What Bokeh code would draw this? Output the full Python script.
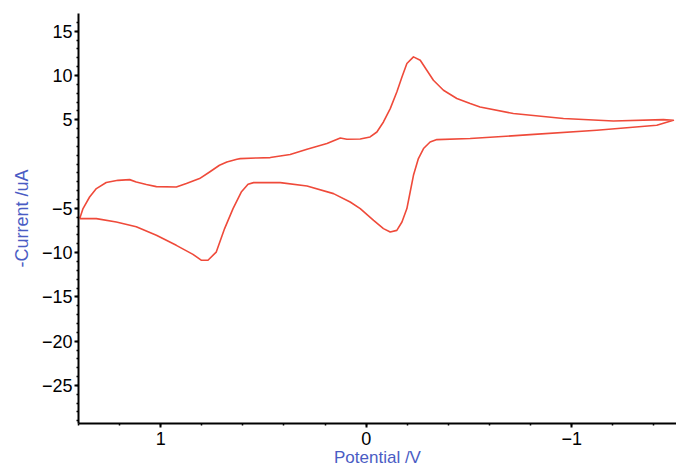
from bokeh.plotting import figure
from bokeh.models import Range1d, FixedTicker, CustomJSTickFormatter
from bokeh.embed import file_html
from bokeh.resources import INLINE

# Forward scan (potential in V, -current in uA)
potential_fwd = [1.394, 1.378, 1.346, 1.313, 1.265, 1.208, 1.151, 1.119, 1.070, 1.021,
                 0.924, 0.875, 0.811, 0.762, 0.714, 0.678, 0.629, 0.613, 0.532, 0.467,
                 0.370, 0.288, 0.191, 0.126, 0.094, 0.029, -0.019, -0.052, -0.084,
                 -0.117, -0.149, -0.174, -0.198, -0.230, -0.263, -0.295, -0.327, -0.376,
                 -0.441, -0.506, -0.554, -0.716, -0.960, -1.203, -1.446, -1.495]
current_fwd = [-6.16, -5.03, -3.72, -2.77, -2.09, -1.84, -1.76, -2.03, -2.32, -2.55,
               -2.59, -2.20, -1.64, -0.90, -0.14, 0.23, 0.54, 0.61, 0.69, 0.73,
               1.07, 1.67, 2.31, 2.94, 2.80, 2.82, 3.06, 3.62, 4.75,
               6.26, 8.14, 9.84, 11.35, 12.10, 11.72, 10.59, 9.46, 8.33,
               7.40, 6.83, 6.45, 5.70, 5.14, 4.86, 5.02, 4.94]

# Reverse scan
potential_rev = [-1.495, -1.414, -1.122, -0.798, -0.506, -0.344, -0.311, -0.279, -0.254,
                 -0.230, -0.214, -0.198, -0.174, -0.149, -0.117, -0.084, -0.036, 0.029,
                 0.078, 0.159, 0.288, 0.418, 0.548, 0.575, 0.608, 0.648, 0.689, 0.730,
                 0.770, 0.803, 0.843, 0.924, 1.021, 1.119, 1.216, 1.313, 1.394]
current_rev = [4.94, 4.38, 3.81, 3.32, 2.88, 2.76, 2.49, 1.75, 0.62,
               -1.27, -3.16, -5.03, -6.55, -7.49, -7.68, -7.29, -6.36, -5.03,
               -4.29, -3.34, -2.48, -2.10, -2.10, -2.29, -3.16, -5.03, -7.29, -9.95,
               -10.86, -10.86, -10.20, -9.18, -8.05, -7.09, -6.55, -6.16, -6.16]

x_major = [1, 0, -1]
x_minor = [1.4, 1.2, 1.0, 0.8, 0.6, 0.4, 0.2, 0.0, -0.2, -0.4, -0.6, -0.8, -1.0, -1.2, -1.4]
y_major = [-25, -20, -15, -10, -5, 5, 10, 15]
y_minor = list(range(-29, 17))

p = figure(width=676, height=472, output_backend="svg", toolbar_location=None,
           x_range=Range1d(1.4, -1.51), y_range=Range1d(-29.3, 17.0),
           min_border_left=78, min_border_right=0, min_border_top=13, min_border_bottom=49)
p.outline_line_color = None
p.xgrid.visible = False
p.ygrid.visible = False
p.background_fill_color = "white"
p.border_fill_color = "white"

p.line(potential_fwd + potential_rev, current_fwd + current_rev,
       line_color="#ef4a3a", line_width=1.6, line_join="round")

fmt = CustomJSTickFormatter(code="return tick < 0 ? '\u2212' + Math.abs(tick) : tick.toString();")

for ax, maj, mino in ((p.xaxis[0], x_major, x_minor), (p.yaxis[0], y_major, y_minor)):
    ax.ticker = FixedTicker(ticks=maj, minor_ticks=mino)
    ax.formatter = fmt
    ax.axis_line_width = 2
    ax.axis_line_color = "black"
    ax.major_tick_out = 4
    ax.major_tick_in = 0
    ax.major_tick_line_width = 2
    ax.minor_tick_out = 2
    ax.minor_tick_in = 0
    ax.minor_tick_line_width = 1.5
    ax.major_label_text_font = "Liberation Sans"
    ax.major_label_text_font_size = "18px"
    ax.major_label_text_color = "black"
    ax.axis_label_text_font = "Liberation Sans"
    ax.axis_label_text_font_style = "normal"
    ax.axis_label_text_color = "#4a5cc4"

p.xaxis.axis_label = "Potential /V"
p.yaxis.axis_label = "-Current /uA"
p.xaxis.axis_label_text_font_size = "17px"
p.yaxis.axis_label_text_font_size = "18px"
p.xaxis.major_label_standoff = 4
p.xaxis.axis_label_standoff = 0
p.yaxis.major_label_standoff = 2
p.yaxis.axis_label_standoff = 7

open("out.html", "w").write(file_html(p, INLINE))
